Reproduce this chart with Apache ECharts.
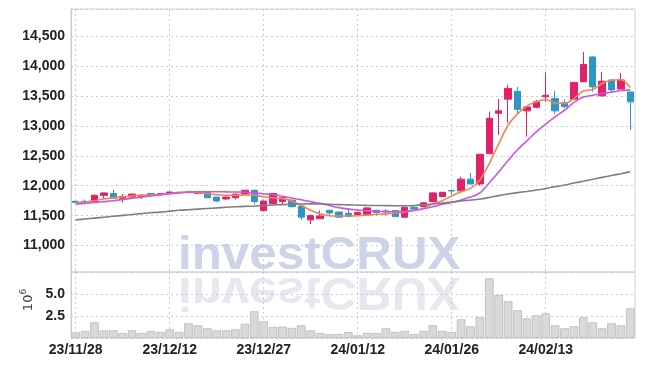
<!DOCTYPE html>
<html>
<head>
<meta charset="utf-8">
<script src="https://cdn.jsdelivr.net/npm/echarts@6/dist/echarts.min.js"></script>
<style>
html, body { margin: 0; padding: 0; background: #fff; }
#chart { width: 645px; height: 366px; }
</style>
</head>
<body>
<div id="chart"></div>
<script>
// trading days
const dates = [
    "23/11/28", "23/11/29", "23/11/30", "23/12/01", "23/12/04", "23/12/05", "23/12/06", "23/12/07", "23/12/08", "23/12/11",
    "23/12/12", "23/12/13", "23/12/14", "23/12/15", "23/12/18", "23/12/19", "23/12/20", "23/12/21", "23/12/22", "23/12/26",
    "23/12/27", "23/12/28", "24/01/02", "24/01/03", "24/01/04", "24/01/05", "24/01/08", "24/01/09", "24/01/10", "24/01/11",
    "24/01/12", "24/01/15", "24/01/16", "24/01/17", "24/01/18", "24/01/19", "24/01/22", "24/01/23", "24/01/24", "24/01/25",
    "24/01/26", "24/01/29", "24/01/30", "24/01/31", "24/02/01", "24/02/02", "24/02/05", "24/02/06", "24/02/07", "24/02/08",
    "24/02/13", "24/02/14", "24/02/15", "24/02/16", "24/02/19", "24/02/20", "24/02/21", "24/02/22", "24/02/23", "24/02/26",
];

const opens = [
    11740, 11740, 11730, 11840, 11870, 11790, 11810, 11820, 11870, 11860,
    11875, 11890, 11900, 11870, 11890, 11810, 11780, 11800, 11860, 11925,
    11585, 11700, 11735, 11760, 11660, 11430, 11450, 11590, 11560, 11540,
    11520, 11515, 11590, 11580, 11585, 11475, 11640, 11650, 11735, 11820,
    11920, 11915, 12110, 12030, 12535, 13210, 13445, 13575, 13250, 13310,
    13485, 13455, 13385, 13445, 13735, 14150, 13500, 13765, 13615, 13565,
];
const closes = [
    11720, 11730, 11840, 11880, 11790, 11820, 11860, 11845, 11850, 11870,
    11895, 11885, 11885, 11885, 11800, 11745, 11810, 11860, 11925, 11735,
    11745, 11870, 11800, 11650, 11475, 11500, 11495, 11545, 11475, 11485,
    11555, 11630, 11550, 11565, 11485, 11640, 11610, 11715, 11880, 11890,
    11912, 12110, 12030, 12525, 13125, 13250, 13625, 13275, 13315, 13400,
    13510, 13250, 13320, 13725, 14025, 13650, 13745, 13600, 13765, 13400,
];
const lows = [
    11710, 11700, 11720, 11790, 11790, 11720, 11800, 11780, 11820, 11840,
    11870, 11870, 11870, 11860, 11795, 11725, 11760, 11770, 11860, 11690,
    11570, 11690, 11680, 11640, 11430, 11360, 11445, 11510, 11470, 11475,
    11510, 11505, 11510, 11500, 11480, 11460, 11600, 11640, 11730, 11810,
    11850, 11880, 12020, 12000, 12530, 12845, 13050, 13210, 12820, 13290,
    13400, 13200, 13300, 13430, 13730, 13570, 13490, 13565, 13610, 12930,
];
const highs = [
    11750, 11770, 11850, 11885, 11930, 11860, 11870, 11850, 11880, 11880,
    11900, 11900, 11910, 11900, 11895, 11815, 11820, 11870, 11930, 11930,
    11750, 11880, 11810, 11770, 11665, 11520, 11585, 11600, 11570, 11620,
    11570, 11640, 11600, 11610, 11590, 11650, 11680, 11720, 11890, 11895,
    11940, 12150, 12210, 12530, 13235, 13450, 13685, 13650, 13330, 13430,
    13895, 13580, 13440, 13730, 14230, 14160, 13900, 13770, 13880, 13570,
];

// moving averages
const maShort = [
    11715, 11725, 11750, 11780, 11800, 11815, 11830, 11840, 11845, 11855,
    11865, 11880, 11890, 11885, 11870, 11850, 11840, 11840, 11845, 11840,
    11815, 11800, 11785, 11750, 11670, 11590, 11530, 11500, 11495, 11495,
    11500, 11510, 11520, 11530, 11545, 11560, 11590, 11620, 11700, 11750,
    11830, 11900, 11955, 12095, 12370, 12700, 13010, 13200, 13330, 13400,
    13440, 13380, 13375, 13455, 13580, 13605, 13705, 13760, 13770, 13640,
];
const maMid = [
    11695, 11705, 11720, 11735, 11750, 11770, 11790, 11810, 11830, 11845,
    11870, 11885, 11895, 11900, 11900, 11900, 11898, 11895, 11892, 11880,
    11865, 11850, 11825, 11795, 11765, 11735, 11705, 11670, 11635, 11610,
    11595, 11580, 11572, 11567, 11565, 11570, 11590, 11615, 11650, 11690,
    11720, 11760, 11810, 11880, 12050, 12230, 12420, 12600, 12750, 12900,
    13030, 13150, 13260, 13390, 13480, 13510, 13540, 13560, 13590, 13600,
];
const maLong = [
    11430, 11445, 11460, 11475, 11490, 11505, 11520, 11535, 11550, 11560,
    11575, 11590, 11600, 11610, 11620, 11630, 11640, 11648, 11655, 11662,
    11670, 11678, 11685, 11690, 11695, 11697, 11695, 11690, 11685, 11680,
    11675, 11672, 11670, 11668, 11667, 11667, 11670, 11680, 11695, 11710,
    11728, 11745, 11760, 11778, 11805, 11835, 11862, 11885, 11905, 11928,
    11955, 11985, 12012, 12045, 12075, 12107, 12140, 12170, 12200, 12233,
];

// volume, millions
const volumes = [
    0.65, 0.8, 1.78, 0.87, 0.87, 0.57, 0.87, 0.57, 0.8, 0.68,
    0.98, 0.68, 1.67, 1.44, 1.1, 0.87, 0.87, 0.98, 1.63, 3.03,
    1.89, 1.25, 1.3, 1.14, 1.44, 0.87, 0.57, 0.45, 0.45, 0.68,
    0.3, 0.57, 0.57, 1.1, 0.68, 0.8, 0.45, 0.8, 1.44, 0.8,
    0.68, 2.12, 1.33, 2.35, 6.78, 4.89, 4.17, 3.15, 2.23, 2.57,
    2.8, 1.44, 1.1, 1.33, 2.35, 1.78, 1.1, 1.67, 1.44, 3.37,
];

const upColor = "#e2216b";
const downColor = "#2f96c8";
const gridLineColor = "#c9c9dd";
const labelFont = "'Liberation Sans', Arial, sans-serif";
const markFont = "bold 47px 'Liberation Sans', Arial, sans-serif";

const candleData = opens.map((o, i) => [o, closes[i], lows[i], highs[i]]);

const chart = echarts.init(document.getElementById("chart"), null, { renderer: "canvas" });

const dottedSplit = {
    show: true,
    lineStyle: { color: gridLineColor, type: [2, 3], width: 1 },
};

const tickLabel = {
    showMinLabel: false,
    showMaxLabel: false,
    margin: 6,
    color: "#222",
    fontFamily: labelFont,
    fontSize: 14,
    fontWeight: "bold",
};

const option = {
    animation: false,
    backgroundColor: "#fff",
    grid: [
        { left: 71, right: 10, top: 9, height: 263, show: true, borderColor: "#d2d2d2", borderWidth: 1 },
        { left: 71, right: 10, top: 272, height: 66, show: true, borderColor: "#d2d2d2", borderWidth: 1 },
    ],
    graphic: [
        // watermark and its mirror image
        {
            type: "text",
            x: 178,
            y: 256,
            scaleX: 1.05,
            z: -10,
            silent: true,
            style: {
                text: "investCRUX",
                font: markFont,
                fill: "#cdd3e8",
                textVerticalAlign: "middle",
            },
        },
        {
            type: "text",
            x: 178,
            y: 291,
            scaleX: 1.05,
            scaleY: -1,
            z: -10,
            silent: true,
            style: {
                text: "investCRUX",
                font: markFont,
                fill: "#e6e8f0",
                textVerticalAlign: "middle",
            },
        },
    ],
    xAxis: [
        {
            type: "category",
            gridIndex: 0,
            data: dates,
            boundaryGap: true,
            axisLine: { show: false },
            axisTick: { show: false },
            axisLabel: { show: false },
            splitLine: { ...dottedSplit, interval: 9, alignWithLabel: true },
        },
        {
            type: "category",
            gridIndex: 1,
            data: dates,
            boundaryGap: true,
            axisLine: { show: false },
            axisTick: { show: false, interval: 9, alignWithLabel: true },
            axisLabel: {
                interval: 9,
                margin: 5,
                color: "#222",
                fontFamily: labelFont,
                fontSize: 14,
                fontWeight: "bold",
            },
            splitLine: { ...dottedSplit, interval: 9, alignWithLabel: true },
        },
    ],
    yAxis: [
        {
            type: "value",
            gridIndex: 0,
            min: 10560,
            max: 14950,
            splitNumber: 9,
            axisLine: { show: true, lineStyle: { color: "#c8c8c8" } },
            axisTick: { show: false },
            axisLabel: { ...tickLabel, formatter: v => v.toLocaleString("en-US") },
            splitLine: dottedSplit,
        },
        {
            type: "value",
            gridIndex: 1,
            min: 0,
            max: 7.5,
            interval: 2.5,
            name: "10{sup|6}",
            nameLocation: "middle",
            nameRotate: 90,
            nameGap: 23,
            nameTextStyle: {
                color: "#444",
                fontFamily: "'DejaVu Sans', sans-serif",
                fontSize: 13,
                padding: [0, 0, 0, 10],
                rich: {
                    sup: { fontSize: 9, color: "#444", verticalAlign: "top", padding: [0, 0, 8, 0] },
                },
            },
            axisLine: { show: true, lineStyle: { color: "#c8c8c8" } },
            axisTick: { show: false },
            axisLabel: { ...tickLabel, formatter: v => v.toFixed(1) },
            splitLine: dottedSplit,
        },
    ],
    series: [
        {
            name: "가격",
            type: "candlestick",
            xAxisIndex: 0,
            yAxisIndex: 0,
            data: candleData,
            barWidth: 7,
            z: 3,
            itemStyle: {
                color: upColor,
                color0: downColor,
                borderColor: upColor,
                borderColor0: downColor,
                borderWidth: 1,
            },
        },
        {
            name: "MA5",
            type: "line",
            data: maShort,
            showSymbol: false,
            smooth: 0.3,
            z: 4,
            lineStyle: { color: "#f0874b", width: 1.6 },
        },
        {
            name: "MA20",
            type: "line",
            data: maMid,
            showSymbol: false,
            smooth: 0.3,
            z: 4,
            lineStyle: { color: "#cc55e3", width: 1.6 },
        },
        {
            name: "MA60",
            type: "line",
            data: maLong,
            showSymbol: false,
            smooth: 0.3,
            z: 4,
            lineStyle: { color: "#7f7f7f", width: 1.6 },
        },
        {
            name: "거래량",
            type: "bar",
            xAxisIndex: 1,
            yAxisIndex: 1,
            data: volumes,
            barCategoryGap: "8%",
            itemStyle: { color: "#d9d9d9", borderColor: "#b9b9b9", borderWidth: 0.8 },
        },
    ],
};

chart.setOption(option);
</script>
</body>
</html>
